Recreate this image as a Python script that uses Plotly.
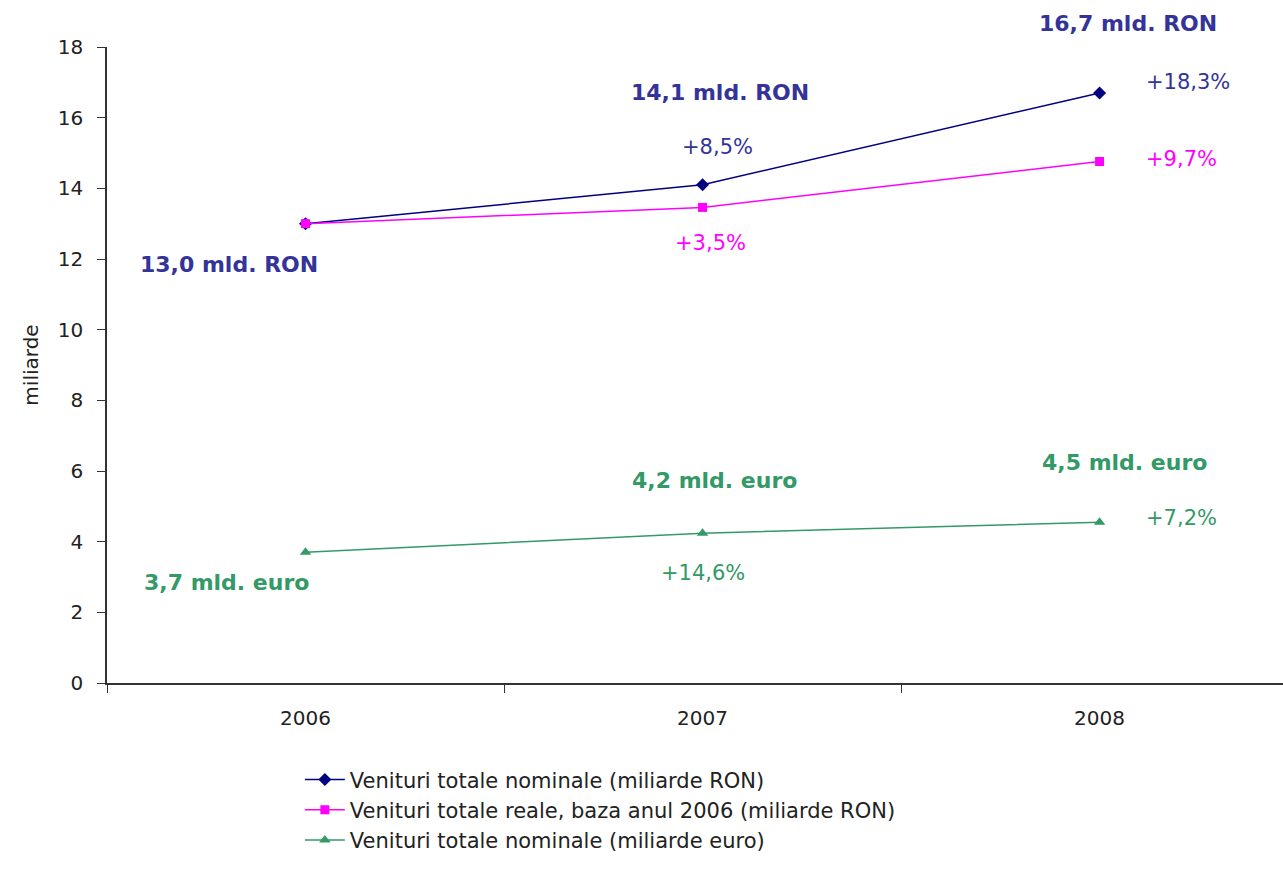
import plotly.graph_objects as go

years = ["2006", "2007", "2008"]
nominal_ron = [13.0, 14.1, 16.7]
real_ron = [13.0, 13.46, 14.76]
nominal_eur = [3.7, 4.24, 4.55]

names = [
    "Venituri totale nominale (miliarde RON)",
    "Venituri totale reale, baza anul 2006 (miliarde RON)",
    "Venituri totale nominale (miliarde euro)",
]

NAVY = "#000080"
NAVY_TXT = "#333399"
PINK = "#FF00FF"
GREEN = "#339966"

FONT = "DejaVu Sans"

fig = go.Figure()
fig.add_trace(go.Scatter(x=years, y=nominal_ron, name=names[0], mode="lines+markers",
                         line=dict(color=NAVY, width=1.5),
                         marker=dict(symbol="diamond", size=10, color=NAVY), cliponaxis=False))
fig.add_trace(go.Scatter(x=years, y=real_ron, name=names[1], mode="lines+markers",
                         line=dict(color=PINK, width=1.5),
                         marker=dict(symbol="square", size=9, color=PINK), cliponaxis=False))
fig.add_trace(go.Scatter(x=years, y=nominal_eur, name=names[2], mode="lines+markers",
                         line=dict(color=GREEN, width=1.5),
                         marker=dict(symbol="triangle-up", size=10, color=GREEN), cliponaxis=False))

# (category index, series values, text, color, bold, xshift, yshift)
labels = [
    (0, nominal_ron, "13,0 mld. RON", NAVY_TXT, True, -77, -41),
    (1, nominal_ron, "14,1 mld. RON", NAVY_TXT, True, 17, 92),
    (2, nominal_ron, "16,7 mld. RON", NAVY_TXT, True, 28, 69),
    (1, nominal_ron, "+8,5%", NAVY_TXT, False, 15, 38),
    (2, nominal_ron, "+18,3%", NAVY_TXT, False, 88, 11),
    (1, real_ron, "+3,5%", PINK, False, 8, -36),
    (2, real_ron, "+9,7%", PINK, False, 82, 2),
    (0, nominal_eur, "3,7 mld. euro", GREEN, True, -79, -30),
    (1, nominal_eur, "4,2 mld. euro", GREEN, True, 12, 53),
    (2, nominal_eur, "4,5 mld. euro", GREEN, True, 25, 60),
    (1, nominal_eur, "+14,6%", GREEN, False, 0, -40),
    (2, nominal_eur, "+7,2%", GREEN, False, 82, 4),
]
for i, series, txt, col, bold, xs, ys in labels:
    fig.add_annotation(x=i, y=series[i], xref="x", yref="y",
                       text=f"<b>{txt}</b>" if bold else txt, showarrow=False,
                       xshift=xs, yshift=ys,
                       font=dict(family=FONT, size=22 if bold else 21, color=col))

fig.update_layout(
    width=1283, height=874,
    margin=dict(l=107, r=0, t=47, b=191),
    paper_bgcolor="white", plot_bgcolor="white",
    font=dict(family=FONT, size=20, color="#222222"),
    showlegend=True,
    legend=dict(x=0.164, y=-0.12, xanchor="left", yanchor="top",
                font=dict(family=FONT, size=21, color="#222222"),
                bgcolor="rgba(0,0,0,0)", tracegroupgap=0, itemwidth=40),
    xaxis=dict(type="category", range=[-0.5, 2.462], showgrid=False, zeroline=False,
               showline=True, linecolor="#333333", linewidth=1.5,
               ticks="outside", tickson="boundaries", ticklen=8, tickcolor="#333333",
               ticklabelstandoff=16,
               tickfont=dict(family=FONT, size=20, color="#222222")),
    yaxis=dict(range=[0, 18], dtick=2, showgrid=False, zeroline=False,
               showline=True, linecolor="#333333", linewidth=1.5,
               ticks="outside", ticklen=8, tickcolor="#333333",
               ticklabelstandoff=10,
               tickfont=dict(family=FONT, size=20, color="#222222"),
               title=dict(text="miliarde", standoff=14,
                          font=dict(family=FONT, size=20, color="#222222"))),
)

fig.write_html("out.html", config={"displayModeBar": False},
               post_script="document.body.style.margin='0px';")
